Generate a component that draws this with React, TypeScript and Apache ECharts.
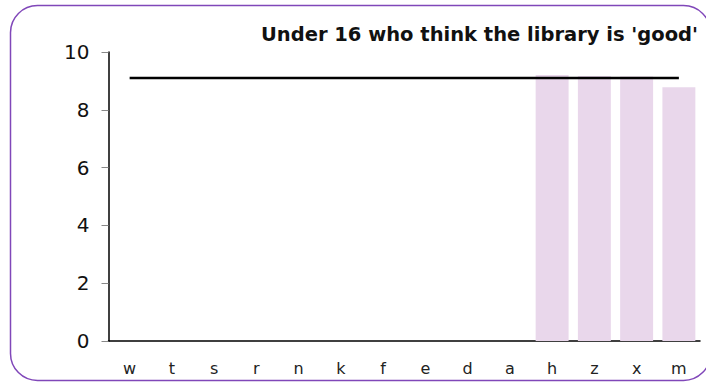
import React, { useEffect, useRef } from "react";
import * as echarts from "echarts";

const categories = ["w", "t", "s", "r", "n", "k", "f", "e", "d", "a", "h", "z", "x", "m"];
const barValues: (number | null)[] = [null, null, null, null, null, null, null, null, null, null, 9.2, 9.17, 9.15, 8.78];
const lineValues: number[] = [9.1, 9.1, 9.1, 9.1, 9.1, 9.1, 9.1, 9.1, 9.1, 9.1, 9.1, 9.1, 9.1, 9.1];
const yTicks = { min: 0, max: 10, interval: 2 };
const titleText = "Under 16 who think the library is 'good'";

const FONT = "DejaVu Sans";

export default function App() {
  const ref = useRef<HTMLDivElement>(null);
  useEffect(() => {
    if (!ref.current) return;
    const chart = echarts.init(ref.current, null, { renderer: "svg" });
    chart.setOption({
      animation: false,
      backgroundColor: "#ffffff",
      textStyle: { fontFamily: FONT },
      title: {
        text: titleText,
        right: 3,
        top: 19,
        textStyle: { fontFamily: FONT, fontWeight: "bold", fontSize: 19.5, color: "#111" },
      },
      graphic: [
        {
          type: "rect",
          z: 100,
          shape: { x: 10.5, y: 5.5, width: 700, height: 375, r: 27 },
          style: { fill: "none", stroke: "#8047b9", lineWidth: 1.5 },
          silent: true,
        },
      ],
      grid: { left: 108.5, right: 6, top: 52, bottom: 42, containLabel: false },
      xAxis: {
        type: "category",
        data: categories,
        axisLine: { lineStyle: { color: "#000", width: 1.5 } },
        axisTick: { show: false },
        axisLabel: { fontFamily: FONT, fontSize: 16, color: "#222", margin: 19 },
      },
      yAxis: {
        type: "value",
        min: yTicks.min,
        max: yTicks.max,
        interval: yTicks.interval,
        splitLine: { show: false },
        axisLine: { show: true, lineStyle: { color: "#000", width: 1.5 } },
        axisTick: { show: true, length: 7, lineStyle: { color: "#888", width: 1 } },
        axisLabel: { fontFamily: FONT, fontSize: 20, color: "#111", margin: 19 },
      },
      series: [
        {
          type: "bar",
          data: barValues,
          barCategoryGap: "22%",
          itemStyle: { color: "#e9d7eb" },
        },
        {
          type: "line",
          data: lineValues,
          symbol: "none",
          lineStyle: { color: "#000", width: 2.5 },
          z: 5,
        },
      ],
    });
    return () => chart.dispose();
  }, []);
  return <div ref={ref} style={{ position: "fixed", left: 0, top: 0, width: 706, height: 383 }} />;
}
